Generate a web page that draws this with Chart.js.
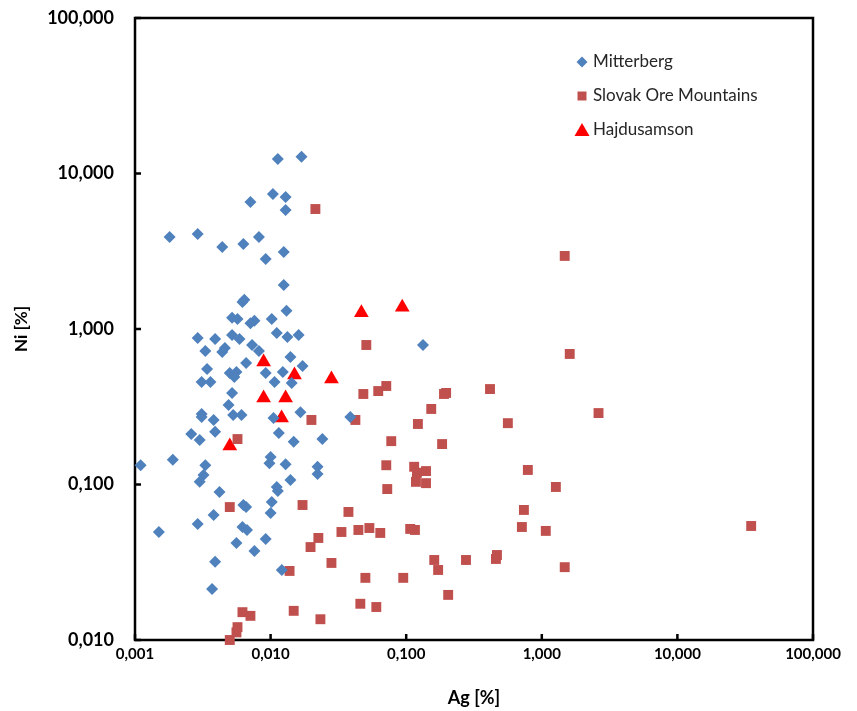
<!DOCTYPE html>
<html>
<head>
<meta charset="utf-8">
<script src="https://cdn.jsdelivr.net/npm/chart.js@4"></script>
<style>
  html, body { margin: 0; padding: 0; background: #fff; }
</style>
</head>
<body>
<canvas id="myChart" width="857" height="711"></canvas>
<script>
// Ag / Ni values (log-log), in %
const mitterbergAg = [0.0113,0.0169,0.0104,0.0129,0.0071,0.0129,0.0018,0.0029,0.0044,0.0063,
  0.0082,0.0092,0.0125,0.0125,0.0064,0.0062,0.0131,0.0052,0.0057,0.0071,
  0.0076,0.0102,0.0111,0.0133,0.0161,0.0029,0.0039,0.0052,0.0059,0.0073,
  0.0082,0.0046,0.0044,0.0033,0.0140,0.0066,0.0172,0.0034,0.0050,0.0056,
  0.0054,0.0092,0.0123,0.0031,0.0036,0.0107,0.0143,0.0052,0.0049,0.0031,
  0.0031,0.0038,0.0053,0.0061,0.0105,0.0166,0.0387,0.133,0.0026,0.0030,
  0.0039,0.0115,0.0148,0.0241,0.0011,0.0019,0.0033,0.0032,0.0030,0.0042,
  0.0100,0.0098,0.0129,0.0140,0.0222,0.0222,0.0111,0.0113,0.0063,0.0066,
  0.0102,0.0100,0.0038,0.0029,0.0015,0.0062,0.0067,0.0056,0.0092,0.0076,
  0.0039,0.0121,0.0037];
const mitterbergNi = [12.4,12.8,7.38,7.06,6.56,5.82,3.91,4.08,3.37,3.52,
  3.91,2.82,3.13,1.92,1.54,1.49,1.31,1.18,1.16,1.09,
  1.13,1.16,0.942,0.889,0.915,0.875,0.863,0.915,0.863,0.789,
  0.722,0.755,0.712,0.722,0.661,0.604,0.578,0.553,0.521,0.529,
  0.491,0.521,0.529,0.456,0.456,0.456,0.450,0.388,0.324,0.284,
  0.272,0.260,0.280,0.280,0.268,0.292,0.272,0.789,0.211,0.193,
  0.218,0.214,0.188,0.196,0.133,0.144,0.133,0.115,0.104,0.0895,
  0.150,0.137,0.135,0.107,0.130,0.117,0.0964,0.0908,0.0738,0.0716,
  0.0771,0.0656,0.0637,0.0557,0.0495,0.0533,0.0510,0.0421,0.0447,0.0373,
  0.0318,0.0282,0.0213];

const slovakAg = [0.0214,1.476,1.607,0.0508,0.0483,0.0622,0.0713,0.190,0.197,0.153,
  0.122,0.0200,0.0422,0.0776,0.184,0.0713,0.1145,0.140,0.120,0.118,
  0.140,0.0725,0.415,0.562,2.62,0.789,1.27,0.738,0.713,1.07,
  0.276,0.459,0.467,1.476,35.0,0.0050,0.0172,0.0375,0.0333,0.0444,
  0.0535,0.0644,0.107,0.116,0.0225,0.0197,0.0281,0.0138,0.161,0.172,
  0.0500,0.0951,0.204,0.0459,0.0602,0.0148,0.0233,0.0062,0.0071,0.0057,
  0.0056,0.0050,0.0057];
const slovakNi = [5.91,2.95,0.691,0.789,0.382,0.399,0.430,0.382,0.388,0.306,
  0.245,0.260,0.260,0.190,0.182,0.133,0.130,0.122,0.119,0.104,
  0.102,0.0935,0.411,0.248,0.288,0.124,0.0964,0.0686,0.0533,0.0503,
  0.0327,0.0332,0.0352,0.0294,0.0541,0.0716,0.0738,0.0666,0.0495,0.0510,
  0.0525,0.0488,0.0518,0.0510,0.0453,0.0396,0.0313,0.0278,0.0327,0.0282,
  0.0251,0.0251,0.0195,0.0171,0.0163,0.0154,0.0136,0.0151,0.0143,0.0121,
  0.0112,0.0100,0.196];

const hajduAg = [0.0467,0.0935,0.00888,0.0150,0.0281,0.00888,0.0129,0.01205,0.0050];
const hajduNi = [1.27,1.38,0.614,0.506,0.477,0.360,0.360,0.268,0.177];

const xTicks = [0.001, 0.01, 0.1, 1, 10, 100];
const yTicks = [0.01, 0.1, 1, 10, 100];

const seriesNames = ['Mitterberg', 'Slovak Ore Mountains', 'Hajdusamson'];

function pts(xs, ys) {
  return xs.map((x, i) => ({x: x, y: ys[i]}));
}
function fmt(v) {
  return Number(v).toFixed(3).replace('.', ',');
}

// box around the plot + inward tick marks
const frame = {
  id: 'frame',
  beforeDatasetsDraw(chart) {
    const ctx = chart.ctx, a = chart.chartArea;
    const xs = chart.scales.x, ys = chart.scales.y;
    ctx.save();
    ctx.strokeStyle = '#000';
    ctx.lineWidth = 2.5;
    ctx.strokeRect(a.left, a.top, a.right - a.left, a.bottom - a.top);
    ctx.beginPath();
    xTicks.forEach(v => {
      const px = xs.getPixelForValue(v);
      ctx.moveTo(px, a.bottom);
      ctx.lineTo(px, a.bottom - 6);
    });
    yTicks.forEach(v => {
      const py = ys.getPixelForValue(v);
      ctx.moveTo(a.left, py);
      ctx.lineTo(a.left + 6, py);
    });
    ctx.stroke();
    ctx.restore();
  }
};

// legend drawn inside the plot, top right
const innerLegend = {
  id: 'innerLegend',
  afterDraw(chart) {
    const ctx = chart.ctx;
    const x0 = 582, ys = [62, 96, 130];
    ctx.save();
    chart.data.datasets.forEach((ds, i) => {
      const y = ys[i];
      ctx.fillStyle = ds.backgroundColor;
      ctx.beginPath();
      if (ds.pointStyle === 'rectRot') {
        ctx.moveTo(x0 - 5.5, y); ctx.lineTo(x0, y - 5.5);
        ctx.lineTo(x0 + 5.5, y); ctx.lineTo(x0, y + 5.5);
      } else if (ds.pointStyle === 'rect') {
        ctx.rect(x0 - 4.5, y - 4.5, 9, 9);
      } else {
        ctx.moveTo(x0, y - 7); ctx.lineTo(x0 + 7.5, y + 6); ctx.lineTo(x0 - 7.5, y + 6);
      }
      ctx.closePath();
      ctx.fill();
      ctx.fillStyle = '#262626';
      ctx.font = '17px Lato';
      ctx.textBaseline = 'middle';
      ctx.fillText(ds.label, x0 + 11, y);
    });
    ctx.restore();
  }
};

new Chart(document.getElementById('myChart'), {
  type: 'scatter',
  data: {
    datasets: [
      {
        label: seriesNames[0],
        data: pts(mitterbergAg, mitterbergNi),
        pointStyle: 'rectRot',
        pointRadius: 6,
        backgroundColor: '#4F81BD',
        borderColor: '#4F81BD',
        borderWidth: 0,
        clip: false
      },
      {
        label: seriesNames[1],
        data: pts(slovakAg, slovakNi),
        pointStyle: 'rect',
        pointRadius: 7,
        backgroundColor: '#C0504D',
        borderColor: '#C0504D',
        borderWidth: 0,
        clip: false
      },
      {
        label: seriesNames[2],
        data: pts(hajduAg, hajduNi),
        pointStyle: 'triangle',
        pointRadius: 8.5,
        backgroundColor: '#FF0000',
        borderColor: '#FF0000',
        borderWidth: 0,
        clip: false
      }
    ]
  },
  options: {
    responsive: false,
    animation: false,
    layout: { padding: { top: 18, right: 44, left: 0, bottom: 0 } },
    scales: {
      x: {
        type: 'logarithmic',
        min: 0.001,
        max: 100,
        afterBuildTicks: s => { s.ticks = xTicks.map(v => ({value: v})); },
        afterFit: s => { s.height = 71; },
        grid: { display: false, drawTicks: false },
        border: { display: false },
        ticks: {
          callback: v => fmt(v),
          color: '#000',
          font: { family: 'Lato', size: 15, weight: 'bold' },
          padding: 5,
          maxRotation: 0,
          autoSkip: false
        },
        title: {
          display: true,
          text: 'Ag [%]',
          color: '#000',
          font: { family: 'Lato', size: 18, weight: 'bold' },
          padding: { top: 4, bottom: 2 }
        }
      },
      y: {
        type: 'logarithmic',
        min: 0.01,
        max: 100,
        afterBuildTicks: s => { s.ticks = yTicks.map(v => ({value: v})); },
        afterFit: s => { s.width = 135; s.paddingTop = 4; s.paddingBottom = 4; },
        grid: { display: false, drawTicks: false },
        border: { display: false },
        ticks: {
          callback: v => fmt(v),
          color: '#000',
          font: { family: 'Lato', size: 18, weight: 'bold' },
          padding: 21,
          autoSkip: false
        },
        title: {
          display: true,
          text: 'Ni [%]',
          color: '#000',
          font: { family: 'Lato', size: 17, weight: 'bold' },
          padding: { top: 11, bottom: 4 }
        }
      }
    },
    plugins: {
      legend: { display: false },
      tooltip: { enabled: false }
    }
  },
  plugins: [frame, innerLegend]
});
</script>
</body>
</html>
